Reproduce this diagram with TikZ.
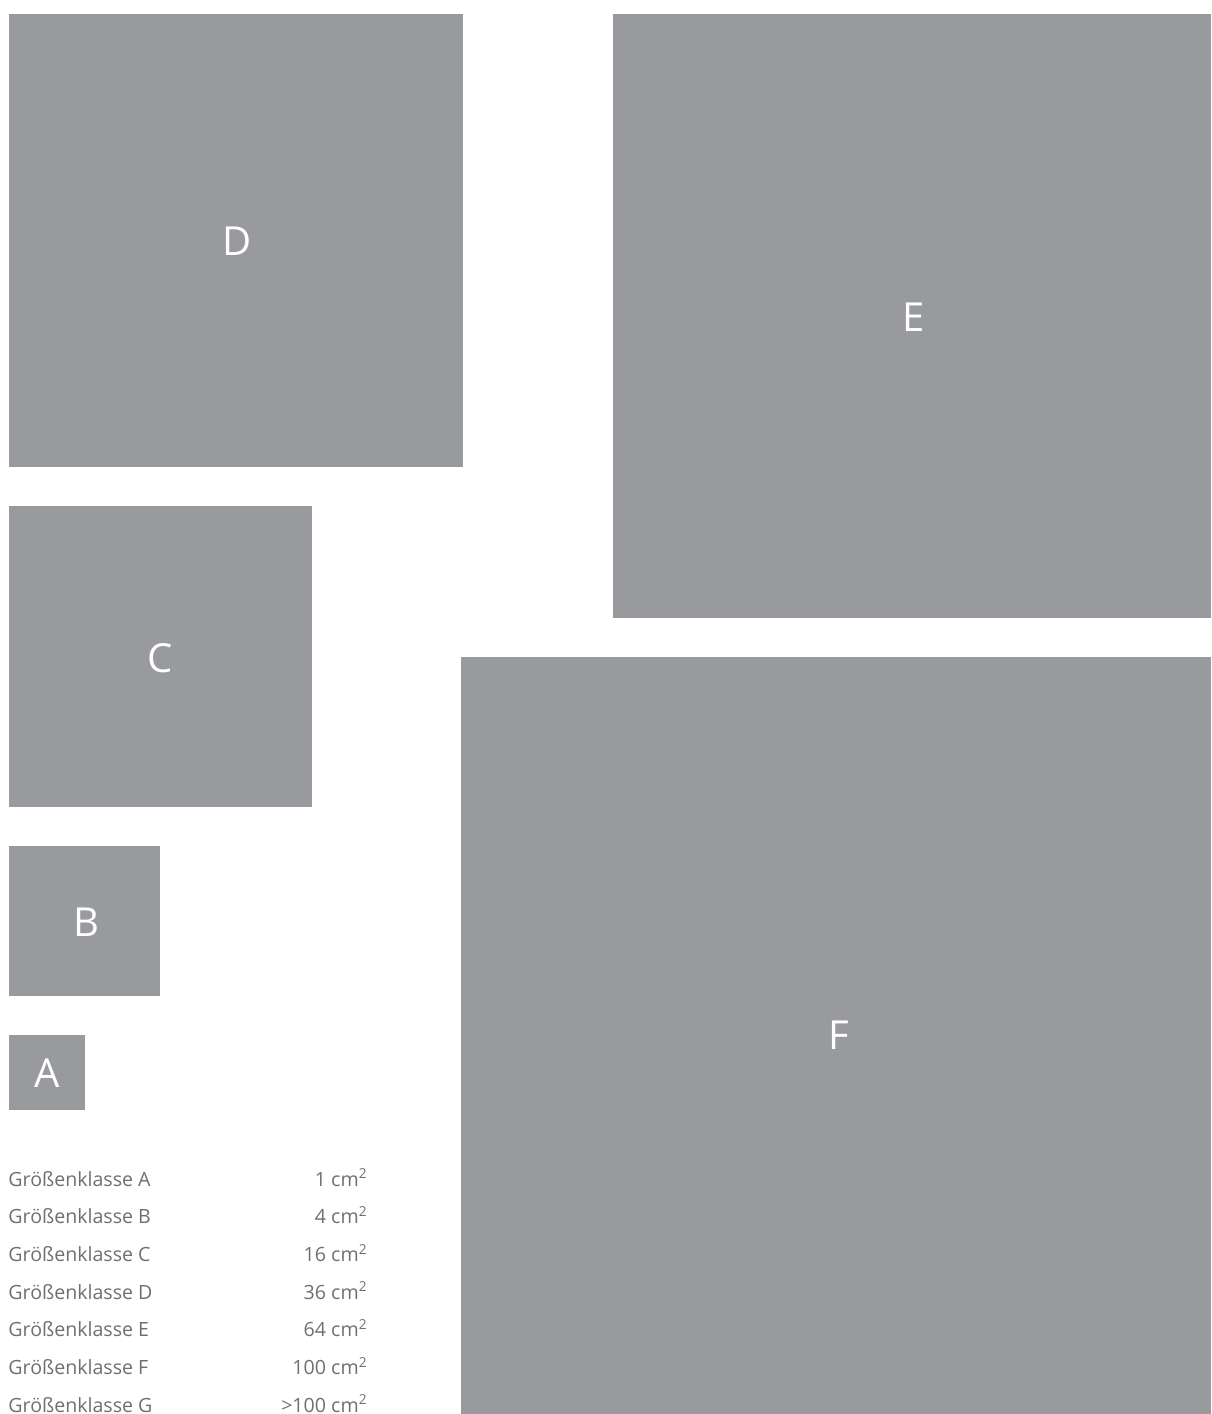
\documentclass[tikz,border=0pt]{standalone}
\usepackage{fontspec}
\setmainfont{Open Sans}
\usepackage{xcolor}
\definecolor{tile}{HTML}{989A9D}
\definecolor{legend}{HTML}{6E6F72}
\tikzset{
  tilelabel/.style={font=\fontsize{20}{24}\selectfont,text=white},
  legendtext/.style={font=\fontsize{9.8}{12}\selectfont,text=legend}
}

\begin{document}
\begin{tikzpicture}[x=0.5pt,y=-0.5pt]
  \useasboundingbox (0,0) rectangle (1211,1414);

  % Size class D
  \fill[tile] (9,14) rectangle (463,467);
  \node[tilelabel] (labD) at (237,241) {D};

  % Size class E
  \fill[tile] (613,14) rectangle (1211,618);
  \node[tilelabel] (labE) at (914,317) {E};

  % Size class C
  \fill[tile] (9,506) rectangle (312,807);
  \node[tilelabel] (labC) at (160,658) {C};

  % Size class F
  \fill[tile] (461,657) rectangle (1211,1414);
  \node[tilelabel] (labF) at (839,1035) {F};

  % Size class B
  \fill[tile] (9,846) rectangle (160,996);
  \node[tilelabel] (labB) at (86,922) {B};

  % Size class A
  \fill[tile] (9,1035) rectangle (85,1110);
  \node[tilelabel] (labA) at (47,1073) {A};

  % Legend
  \foreach \cls/\area [count=\i from 0] in {A/1,B/4,C/16,D/36,E/64,F/100,G/{>100}} {
    \node[legendtext,anchor=base west,inner sep=0pt] (name\cls) at (8,1186+37.67*\i) {Größenklasse \cls};
    \node[legendtext,anchor=base east,inner sep=0pt] (area\cls) at (368,1186+37.67*\i) {\area\ cm\textsuperscript{2}};
  }
\end{tikzpicture}
\end{document}
